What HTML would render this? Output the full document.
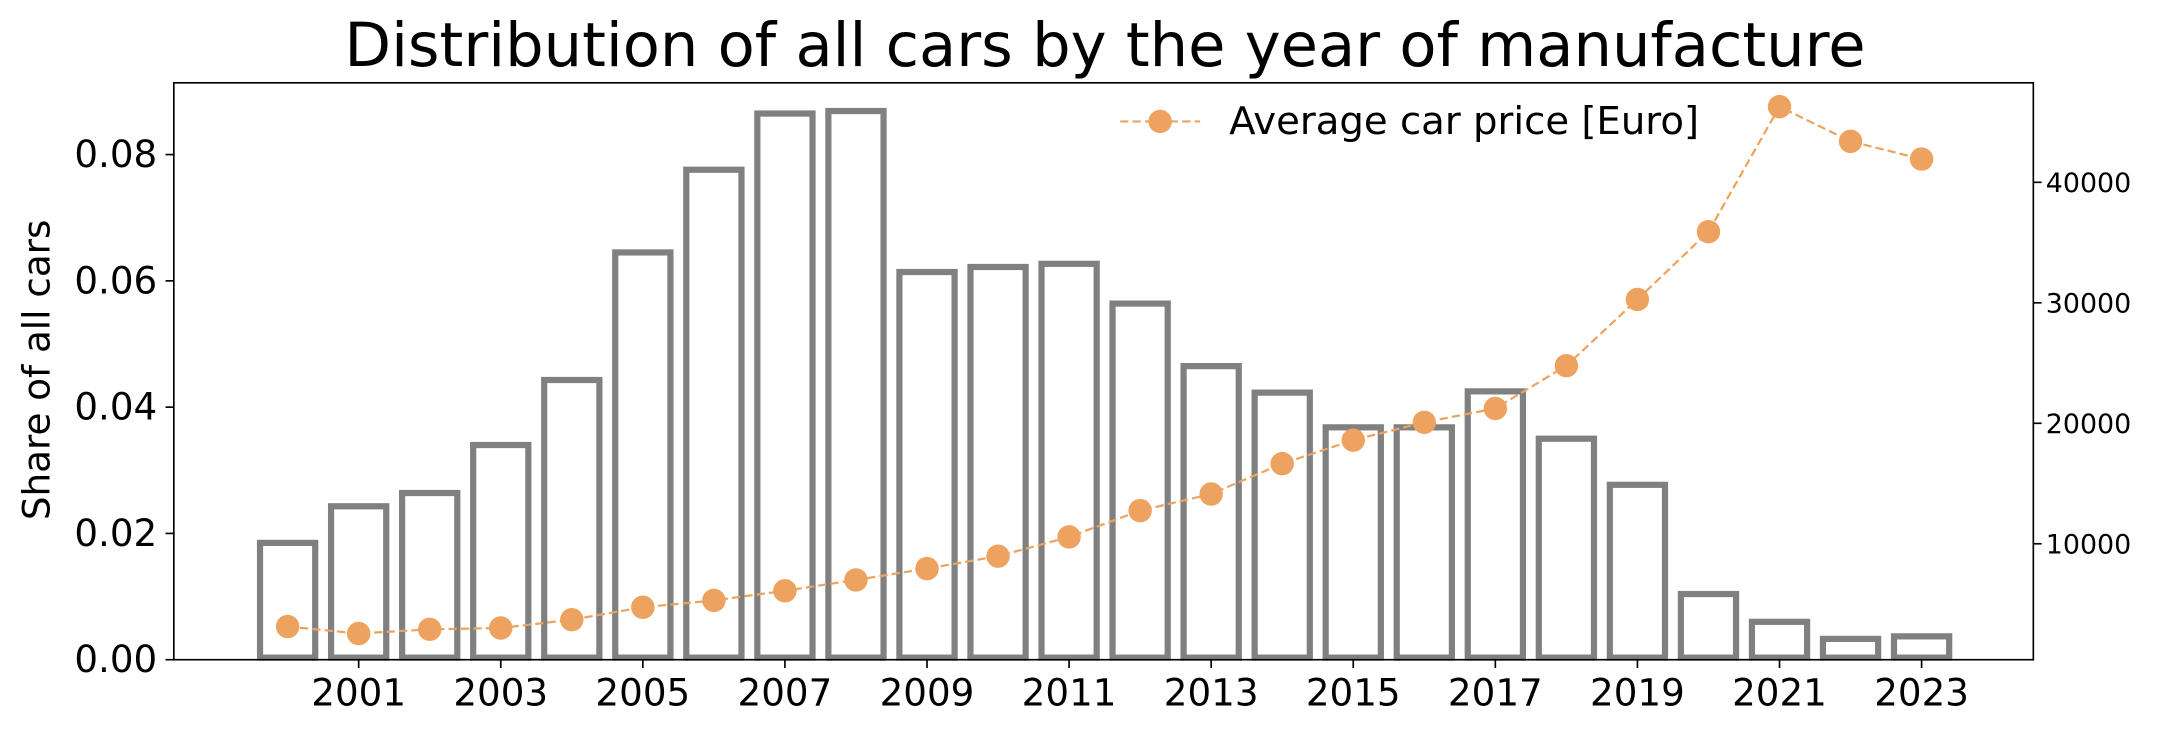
<!DOCTYPE html>
<html><head><meta charset="utf-8"><style>
html,body{margin:0;padding:0;background:#fff;}
svg{display:block;font-family:"DejaVu Sans","Liberation Sans",sans-serif;}
</style></head><body>
<svg id="chart" width="2163" height="737" viewBox="0 0 1568 534" preserveAspectRatio="none" xmlns="http://www.w3.org/2000/svg">
<rect width="1568" height="534" fill="#fff"/>
<text x="801" y="48" font-size="44" text-anchor="middle">Distribution of all cars by the year of manufacture</text>
<g id="bars"></g><g id="line"></g><g id="axes"></g>
<text transform="translate(36,268) rotate(-90)" font-size="27" text-anchor="middle">Share of all cars</text>
<g>
<line x1="812" y1="88" x2="870" y2="88" stroke="#EDA35F" stroke-width="1.6" stroke-dasharray="6,3"/>
<circle cx="841" cy="88" r="8.5" fill="#EDA35F"/>
<text x="891" y="97" font-size="28">Average car price [Euro]</text>
</g>
</svg>
<script>
const years=[2000,2001,2002,2003,2004,2005,2006,2007,2008,2009,2010,2011,2012,2013,2014,2015,2016,2017,2018,2019,2020,2021,2022,2023];
const shares=[0.0185,0.0243,0.0264,0.034,0.0443,0.0645,0.0776,0.0865,0.0869,0.0614,0.0622,0.0627,0.0564,0.0465,0.0423,0.0368,0.0368,0.0425,0.035,0.0277,0.0104,0.006,0.0033,0.0037];
const prices=[3130,2550,2900,3010,3700,4730,5300,6100,7000,7940,8970,10570,12750,14130,16650,18600,20080,21230,24780,30280,35900,46280,43400,41930];
const leftTicks=[0,0.02,0.04,0.06,0.08];
const leftLabels=["0.00","0.02","0.04","0.06","0.08"];
const rightTicks=[10000,20000,30000,40000];
const xTicks=[2001,2003,2005,2007,2009,2011,2013,2015,2017,2019,2021,2023];
const NS="http://www.w3.org/2000/svg";
const L=126,R=1474,T=60,B=478;
const xs=y=>208.5+(y-2000)*51.5;
const yl=v=>478-v*4575;
const yr=v=>481.3-v*0.00873;
function mk(tag,attrs,parent){const e=document.createElementNS(NS,tag);for(const k in attrs)e.setAttribute(k,attrs[k]);parent.appendChild(e);return e;}
const gb=document.getElementById('bars'),gl=document.getElementById('line'),ga=document.getElementById('axes');
years.forEach((yr_,i)=>{
  const top=yl(shares[i]);
  const r=mk('rect',{x:xs(yr_)-20,y:top,width:40,height:B-top-1.5,fill:'none',stroke:'#808080','stroke-width':4.5},gb);
  
  
});
const pts=years.map((y,i)=>xs(y)+','+yr(prices[i])).join(' ');
const pl=mk('polyline',{points:pts,fill:'none',stroke:'#EDA35F','stroke-width':1.6,'stroke-dasharray':'6,3'},gl);


years.forEach((y,i)=>{
  const c=mk('circle',{cx:xs(y),cy:yr(prices[i]),r:8.5,fill:'#EDA35F'},gl);
  
  
});
const fr=mk('rect',{x:L,y:T,width:R-L,height:B-T,fill:'none',stroke:'#000','stroke-width':1.2},ga);


leftTicks.forEach((v,i)=>{
  const y=yl(v);
  mk('line',{x1:L-6,x2:L,y1:y,y2:y,stroke:'#000','stroke-width':1.2},ga);
  const t=mk('text',{x:L-12,y:y+9,'font-size':27,'text-anchor':'end'},ga);
  t.textContent=leftLabels[i];
  
  
});
rightTicks.forEach(v=>{
  const y=yr(v);
  mk('line',{x1:R,x2:R+6,y1:y,y2:y,stroke:'#000','stroke-width':1.2},ga);
  const t=mk('text',{x:R+9,y:y+7,'font-size':19.5},ga);
  t.textContent=v;
  
  
});
xTicks.forEach(v=>{
  const x=xs(v);
  mk('line',{x1:x,x2:x,y1:B,y2:B+6,stroke:'#000','stroke-width':1.2},ga);
  const t=mk('text',{x:x,y:B+33,'font-size':27,'text-anchor':'middle'},ga);
  t.textContent=v;
  
  
});
</script>
</body></html>
